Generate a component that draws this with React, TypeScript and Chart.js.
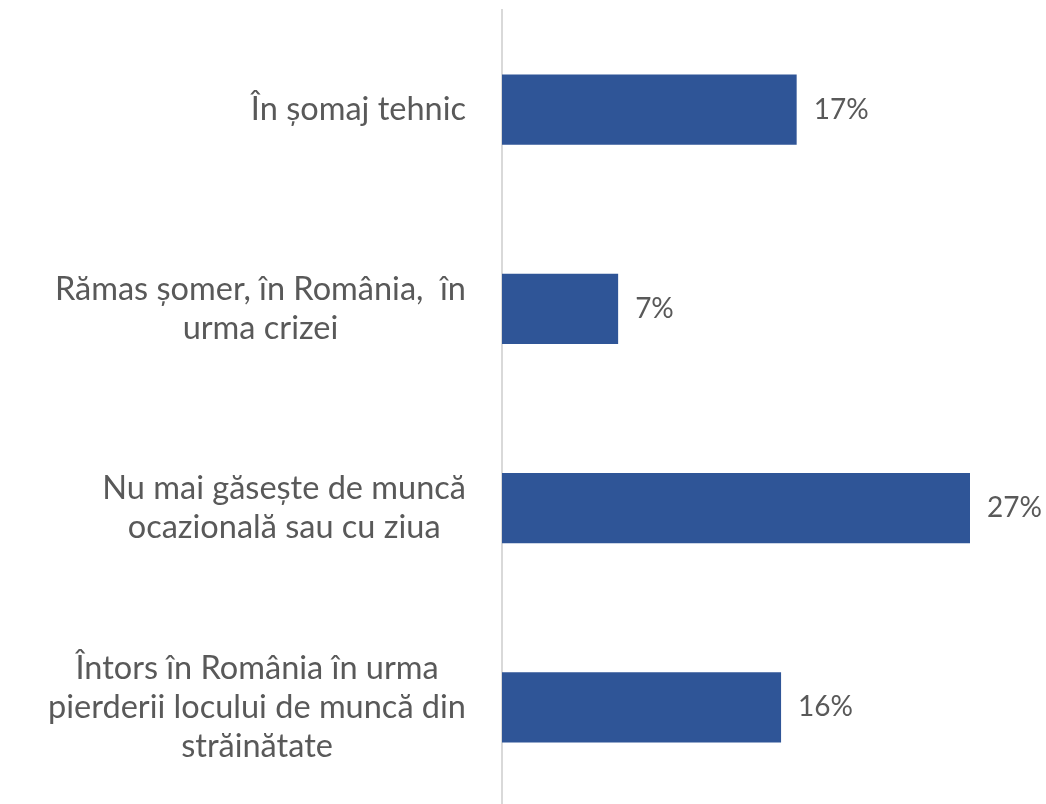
import React, { useEffect, useRef } from "react";
import { Chart, registerables } from "chart.js";

Chart.register(...registerables);

const categories: string[][] = [
  ["În șomaj tehnic"],
  ["Rămas șomer, în România,  în", "urma crizei"],
  ["Nu mai găsește de muncă", "ocazională sau cu ziua"],
  ["Întors în România în urma", "pierderii locului de muncă din", "străinătate"],
];
const values: number[] = [17, 6.7, 27, 16.1];

const BAR_COLOR = "#2F5597";
const TEXT_COLOR = "#595959";
const FONT = "Lato, 'Open Sans', sans-serif";
const CAT_FONT_SIZE = 32.5;
const CAT_LINE_H = 39;
const VAL_FONT_SIZE = 28;

const labelPlugin = {
  id: "customLabels",
  afterDatasetsDraw(chart: any) {
    const ctx = chart.ctx;
    const yScale = chart.scales.y;
    const area = chart.chartArea;
    ctx.save();
    ctx.fillStyle = TEXT_COLOR;
    ctx.textBaseline = "middle";
    // category labels: block right-aligned, lines centered within block
    ctx.font = `${CAT_FONT_SIZE}px ${FONT}`;
    categories.forEach((lines, i) => {
      const yc = yScale.getPixelForValue(i);
      const widths = lines.map((l) => ctx.measureText(l).width);
      const maxW = Math.max(...widths);
      const cx = area.left - 36 - maxW / 2;
      ctx.textAlign = "center";
      const n = lines.length;
      lines.forEach((l, j) => {
        const y = yc + (j - (n - 1) / 2) * CAT_LINE_H;
        ctx.fillText(l, cx, y);
      });
    });
    // value labels
    ctx.font = `${VAL_FONT_SIZE}px ${FONT}`;
    ctx.textAlign = "left";
    const meta = chart.getDatasetMeta(0);
    meta.data.forEach((bar: any, i: number) => {
      ctx.fillText(`${Math.round(values[i])}%`, bar.x + 17, bar.y);
    });
    ctx.restore();
  },
};

export default function App() {
  const ref = useRef<HTMLCanvasElement>(null);
  useEffect(() => {
    if (!ref.current) return;
    const chart = new Chart(ref.current, {
      type: "bar",
      data: {
        labels: categories.map((c) => c.join(" ")),
        datasets: [
          {
            data: values,
            backgroundColor: BAR_COLOR,
            categoryPercentage: 1,
            barPercentage: 0.352,
          },
        ],
      },
      options: {
        indexAxis: "y",
        animation: false,
        responsive: false,
        maintainAspectRatio: false,
        layout: { padding: { top: 10, right: 24, bottom: 0, left: 0 } },
        plugins: { legend: { display: false }, tooltip: { enabled: false } },
        scales: {
          x: {
            display: false,
            min: 0,
            max: 30,
          },
          y: {
            afterFit: (scale: any) => {
              scale.width = 502;
            },
            grid: { display: false, drawTicks: false },
            border: { display: true, color: "#D9D9D9", width: 2 },
            ticks: { display: false },
          },
        },
      },
      plugins: [labelPlugin],
    });
    return () => chart.destroy();
  }, []);
  return (
    <div
      style={{
        position: "fixed",
        left: 0,
        top: 0,
        width: 1046,
        height: 804,
        overflow: "hidden",
        background: "#fff",
      }}
    >
      <canvas ref={ref} width={1046} height={807} style={{ display: "block" }} />
    </div>
  );
}
